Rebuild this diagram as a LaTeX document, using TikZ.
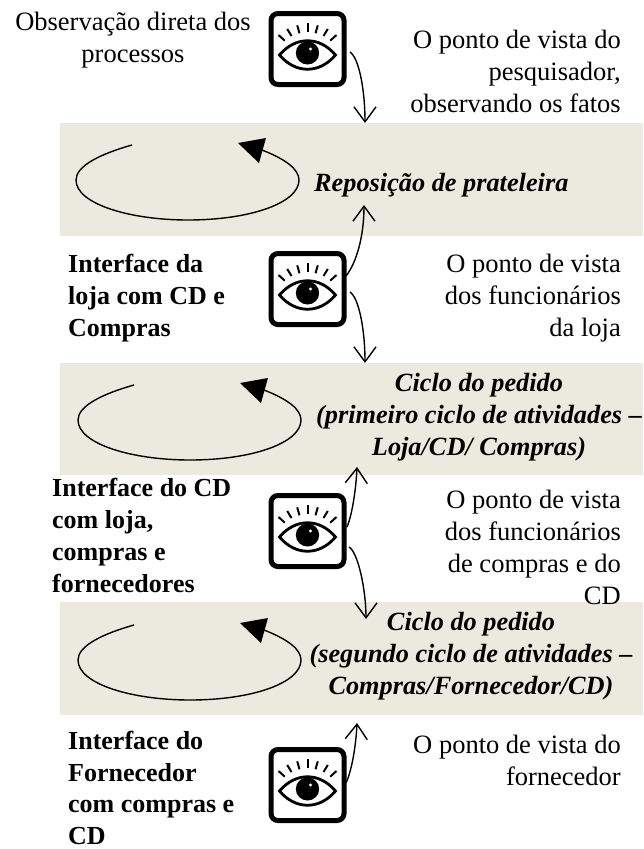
\documentclass[tikz,border=0pt]{standalone}
\usepackage{fontspec}
\setmainfont{Liberation Serif}
\usetikzlibrary{arrows.meta}
\definecolor{band}{HTML}{ECEADF}
\tikzset{
  x=1pt,y=-1pt,
  bandbox/.style={fill=band,draw=none,inner sep=0pt,minimum width=583pt,anchor=north west},
  txt/.style={font=\fontsize{26.5}{32}\selectfont,inner sep=0pt},
  rtxt/.style={txt,anchor=east,align=right},
  ltxt/.style={txt,anchor=west,align=left,font=\fontsize{26}{32}\selectfont\bfseries},
  ctxt/.style={txt,align=center,font=\fontsize{26.3}{32}\selectfont\bfseries\itshape},
  conn/.style={line width=1.4pt,-{Straight Barb[length=15pt,width=22pt,line width=1.4pt]}},
  cyc/.style={line width=1.4pt},
  pics/eye/.style={code={
    \draw[line width=5pt,rounded corners=7pt] (-36.5,-35.5) rectangle (36.5,35.5);
    \draw[line width=2.8pt,fill=white,line join=miter] (-28,6) .. controls (-12,-13) and (12,-13) .. (28,6) .. controls (12,25) and (-12,25) .. (-28,6) -- cycle;
    \fill (0,4) circle[x radius=11.7pt,y radius=11.5pt];
    \fill[white] (3,0) circle (1.7pt);
    \foreach \a/\b/\c/\d in {-29/-14/-22.7/-8.3, -20.3/-20/-16/-13, -10.3/-23.7/-8/-15.7, 0/-25.7/0/-16.7, 10.3/-23.7/8/-15.7, 20.3/-20/16/-13, 29/-14/22.7/-8.3}
      \draw[line width=2pt] (\a,\b) -- (\c,\d);
  }}
}
\begin{document}
\begin{tikzpicture}
\useasboundingbox (0,0) rectangle (643,849);
\fill[white] (0,0) rectangle (643,849);
\node[bandbox,minimum height=113pt] (b1) at (60,123) {};
\node[bandbox,minimum height=112pt] (b2) at (60,363) {};
\node[bandbox,minimum height=113pt] (b3) at (60,602) {};

\coordinate (e1) at (307.5,49); \pic at (e1) {eye};
\coordinate (e2) at (307.5,289); \pic at (e2) {eye};
\coordinate (e3) at (307.5,531); \pic at (e3) {eye};
\coordinate (e4) at (307.5,785); \pic at (e4) {eye};

\coordinate (a1s) at (350,52); \coordinate (a1e) at (365,123);
\coordinate (a2s) at (346,276); \coordinate (a2e) at (364,205);
\coordinate (a3s) at (350,292); \coordinate (a3e) at (365,363);
\coordinate (a4s) at (347,527); \coordinate (a4e) at (357,467);
\coordinate (a5s) at (349,547); \coordinate (a5e) at (366,619);
\coordinate (a6s) at (346,783); \coordinate (a6e) at (357,723);
\draw[conn] (a1s) .. controls (359,58) and (365,90) .. (a1e);
\draw[conn] (a2s) .. controls (357,262) and (364,235) .. (a2e);
\draw[conn] (a3s) .. controls (359,298) and (365,330) .. (a3e);
\draw[conn] (a4s) .. controls (352,515) and (356,490) .. (a4e);
\draw[conn] (a5s) .. controls (358,552) and (366,590) .. (a5e);
\draw[conn] (a6s) .. controls (352,770) and (356,745) .. (a6e);

% cycles
\foreach \dx/\dy in {0/0,2/240,2/480}{
  \begin{scope}[shift={(\dx,\dy)}]
  \draw[cyc] (132,145) .. controls (100,154) and (76,166) .. (76,180)
     .. controls (76,204) and (130,220) .. (188,220)
     .. controls (250,220) and (299,203) .. (299,180)
     .. controls (299,169) and (285,159) .. (262,150);
  \fill (238,143) -- (266,138) -- (259,163) -- cycle;
  \end{scope}
}

\node[txt,align=center] (t1) at (133,40) {Observação direta dos\\processos};
\node[rtxt] (t2) at (621,71.5) {O ponto de vista do\\pesquisador,\\observando os fatos};
\node[rtxt] (t3) at (621,298.5) {O ponto de vista\\dos funcionários\\da loja};
\node[rtxt] (t4) at (621,547) {O ponto de vista\\dos funcionários\\de compras e do\\CD};
\node[rtxt] (t5) at (621,760) {O ponto de vista do\\fornecedor};
\node[ltxt] (l1) at (68,298) {Interface da\\loja com CD e\\Compras};
\node[ltxt] (l2) at (52,535.5) {Interface do CD\\com loja,\\compras e\\fornecedores};
\node[ltxt,font=\fontsize{26}{31.5}\selectfont\bfseries] (l3) at (68,788) {Interface do\\Fornecedor\\com compras e\\CD};
\node[ctxt,anchor=west] (c1) at (314,185) {Reposição de prateleira};
\node[ctxt] (c2) at (479,417) {Ciclo do pedido\\(primeiro ciclo de atividades –\\Loja/CD/ Compras)};
\node[ctxt] (c3) at (471,656) {Ciclo do pedido\\(segundo ciclo de atividades –\\Compras/Fornecedor/CD)};
\end{tikzpicture}
\end{document}
